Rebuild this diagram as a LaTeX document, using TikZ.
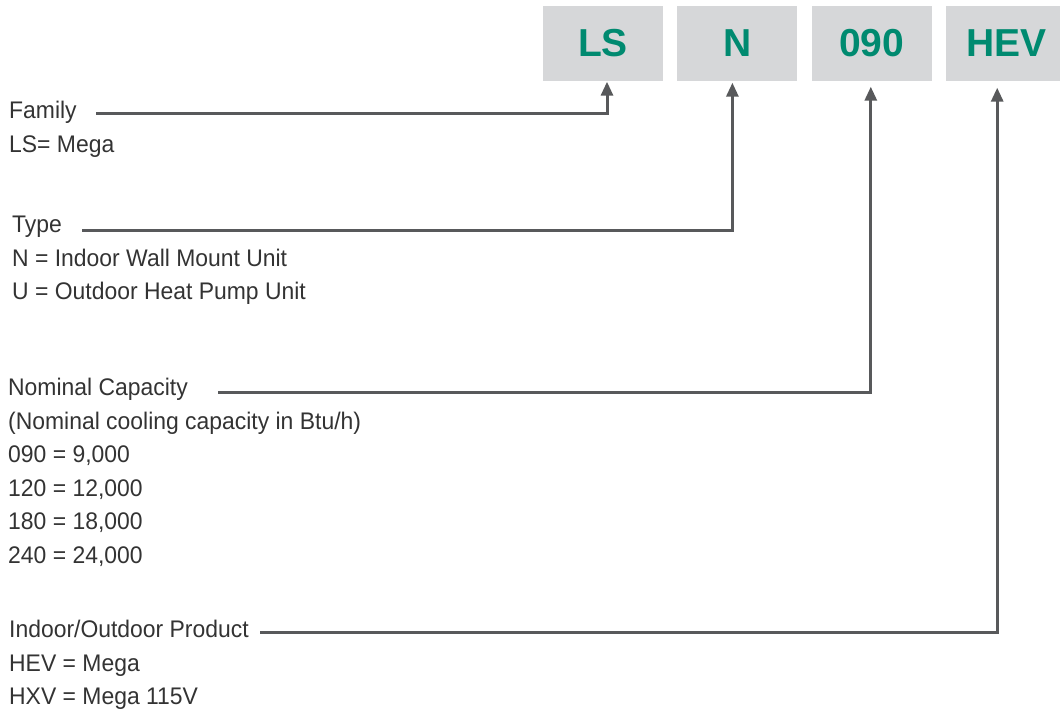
\documentclass[tikz,border=0pt]{standalone}
\usepackage{fontspec}
\setmainfont{Liberation Sans}[FakeStretch=0.955]
\newfontfamily\codefont{Liberation Sans}
\usetikzlibrary{positioning,arrows.meta}
\definecolor{boxgray}{RGB}{214,215,217}
\definecolor{codeteal}{RGB}{0,138,112}
\definecolor{linegray}{RGB}{88,89,91}

\begin{document}
\begin{tikzpicture}[x=1pt,y=-1pt,
code/.style = {rectangle, fill=boxgray, minimum width=120pt, minimum height=75pt,
               inner sep=0pt, text=codeteal, font=\codefont\fontsize{39}{39}\selectfont\bfseries},
desc/.style = {anchor=north west, align=left, inner sep=0pt, text=black!80,
               font=\fontsize{24}{33.5}\selectfont},
line/.style = {draw=linegray, line width=3pt, -{Triangle[width=12pt,length=14pt]}}]

\useasboundingbox (0,0) rectangle (1060,715);

\node [code] (ls) at (603,43) {LS};
\node [code, right=14pt of ls] (n) {N};
\node [code, right=14pt of n] (cap) {090};
\node [code, right=14pt of cap] (hev) {HEV};

\node [desc] (family) at (9,101) {Family\\LS= Mega};
\node [desc] (type) at (12,216) {Type\\N = Indoor Wall Mount Unit\\U = Outdoor Heat Pump Unit};
\node [desc] (nominal) at (8,378) {Nominal Capacity\\(Nominal cooling capacity in Btu/h)\\
  090 = 9,000\\120 = 12,000\\180 = 18,000\\240 = 24,000};
\node [desc] (product) at (9,620) {Indoor/Outdoor Product\\HEV = Mega\\HXV = Mega 115V};

\coordinate (familycut) at (96,113);
\coordinate (typecut) at (82,230);
\coordinate (nominalcut) at (218,392);
\coordinate (productcut) at (260,632);

\begin{scope}[every path/.style=line]
\path (familycut) -| ([xshift=4pt,yshift=-1pt]ls.south);
\path (typecut) -| ([xshift=-5pt,yshift=-2pt]n.south);
\path (nominalcut) -| ([xshift=-1pt,yshift=-6pt]cap.south);
\path (productcut) -| ([xshift=-9pt,yshift=-7pt]hev.south);
\end{scope}
\end{tikzpicture}
\end{document}
